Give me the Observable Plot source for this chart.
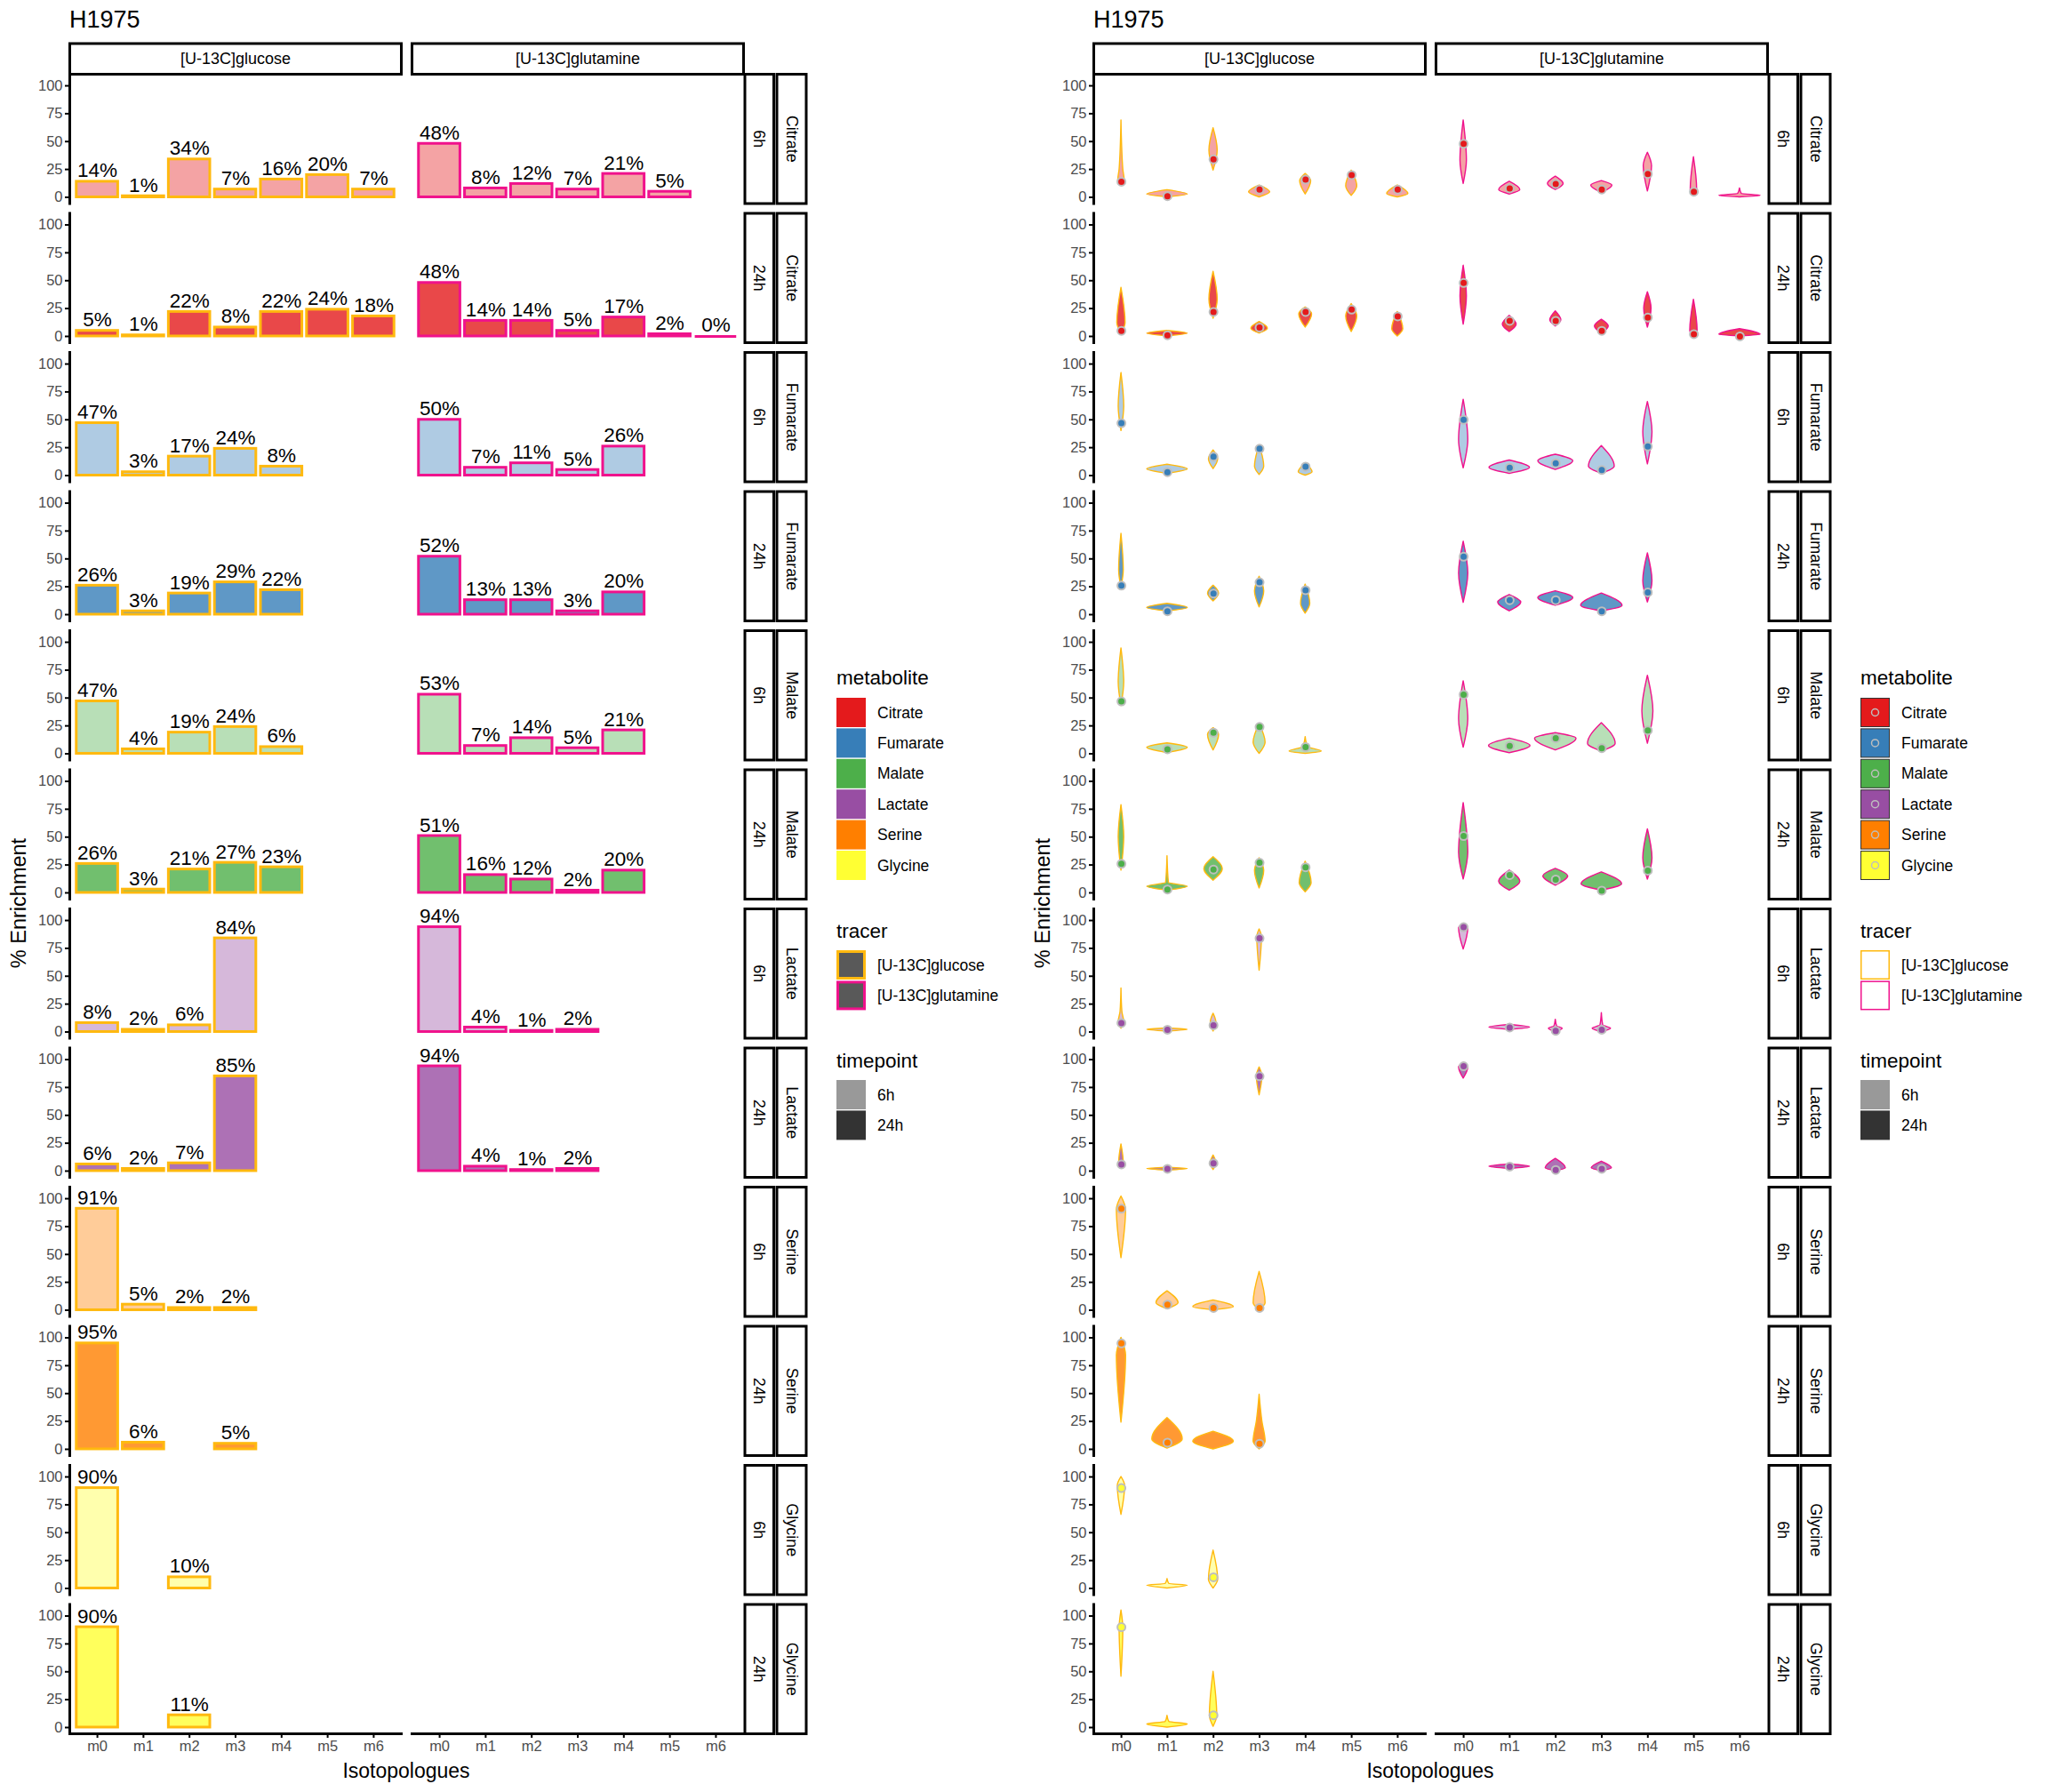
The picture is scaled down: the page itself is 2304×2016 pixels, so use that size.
<!DOCTYPE html>
<html><head><meta charset="utf-8">
<script src="https://cdn.jsdelivr.net/npm/d3@7"></script>
<script src="https://cdn.jsdelivr.net/npm/@observablehq/plot@0.6"></script>
<style>
body{margin:0;background:#fff;}
#page{position:relative;width:2304px;height:2016px;background:#fff;}
.half{position:absolute;top:0;width:1152px;height:2016px;}
.overlay{position:absolute;left:0;top:0;pointer-events:none;}
</style></head><body><div id="page"></div>
<script>
// ---------------- data ----------------
const title = "H1975";
const metabolites = ["Citrate", "Fumarate", "Malate", "Lactate", "Serine", "Glycine"];
const timepoints = ["6h", "24h"];
const tracers = ["[U-13C]glucose", "[U-13C]glutamine"];
const isoLabels = ["m0", "m1", "m2", "m3", "m4", "m5", "m6"];
const yTicks = [0, 25, 50, 75, 100];
const metaboliteColors = ["#E41A1C", "#377EB8", "#4DAF4A", "#984EA3", "#FF7F00", "#FFFF33"];
const tracerColors = ["#FFB90F", "#F0128C"];
const timepointAlpha = [0.4, 0.8];
const xLabel = "Isotopologues";
const yLabel = "% Enrichment";

// bar heights (percent enrichment), per row "metabolite timepoint", index = isotopologue
const glucosePct = {
  "Citrate 6h":  [14, 1, 34, 7, 16, 20, 7],
  "Citrate 24h": [5, 1, 22, 8, 22, 24, 18],
  "Fumarate 6h": [47, 3, 17, 24, 8],
  "Fumarate 24h":[26, 3, 19, 29, 22],
  "Malate 6h":   [47, 4, 19, 24, 6],
  "Malate 24h":  [26, 3, 21, 27, 23],
  "Lactate 6h":  [8, 2, 6, 84],
  "Lactate 24h": [6, 2, 7, 85],
  "Serine 6h":   [91, 5, 2, 2],
  "Serine 24h":  [95, 6, null, 5],
  "Glycine 6h":  [90, null, 10],
  "Glycine 24h": [90, null, 11]
};
const glutaminePct = {
  "Citrate 6h":  [48, 8, 12, 7, 21, 5, null],
  "Citrate 24h": [48, 14, 14, 5, 17, 2, 0],
  "Fumarate 6h": [50, 7, 11, 5, 26],
  "Fumarate 24h":[52, 13, 13, 3, 20],
  "Malate 6h":   [53, 7, 14, 5, 21],
  "Malate 24h":  [51, 16, 12, 2, 20],
  "Lactate 6h":  [94, 4, 1, 2],
  "Lactate 24h": [94, 4, 1, 2]
};

// violin outlines: [y, halfWidth, y, halfWidth, ...] (halfWidth in isotopologue units)
const glucoseViolins = {
  "Citrate 6h": [[11,0,15,0.07,25,0.04,69,0],[0,0,2.5,0.44,6.5,0],[24,0,42,0.09,62,0],[0,0,4.5,0.23,10.6,0],[2.6,0,14.6,0.12,21,0],[1.3,0,10,0.12,24,0],[0,0,3,0.23,10.6,0]],
  "Citrate 24h": [[2.6,0,12,0.09,43.6,0],[0,0,2.5,0.44,5,0],[16,0,33,0.09,58,0],[2.6,0,7,0.18,13,0],[8,0,20,0.14,26,0],[4,0,18,0.12,29,0],[0,0,6.6,0.12,22,0]],
  "Fumarate 6h": [[40,0,62,0.06,92,0],[1.6,0,5.5,0.44,9.7,0],[5.8,0,14.5,0.1,22.6,0],[0.6,0,8,0.1,27,0],[0,0,3,0.15,11,0]],
  "Fumarate 24h": [[24,0,40,0.05,72.5,0],[3,0,6,0.44,9.7,0],[12,0,19,0.12,26,0],[6.5,0,21,0.1,34,0],[1,0,9.7,0.1,27,0]],
  "Malate 6h": [[43,0,64,0.06,94.5,0],[0.6,0,5.5,0.44,9.4,0],[3,0,17,0.12,23,0],[0,0,10,0.13,26.5,0],[0,0,2,0.35,6,0.05,15,0]],
  "Malate 24h": [[20,0,50,0.06,78.7,0],[2,0,5.5,0.44,9,0.03,33,0],[11,0,21.6,0.2,32,0],[4,0,20,0.1,31,0],[0.6,0,8.7,0.13,28,0]],
  "Lactate 6h": [[3,0,9,0.06,18,0.02,39,0],[0.5,0,2,0.44,3.2,0],[0.5,0,8.5,0.06,16.4,0],[55,0,85,0.05,92,0]],
  "Lactate 24h": [[3,0,7,0.05,24,0],[0.5,0,2,0.44,3,0],[1,0,7,0.06,14,0],[68,0,85,0.06,93,0]],
  "Serine 6h": [[46.7,0,90,0.1,102,0],[1,0,6.3,0.24,17,0],[0,0,2.8,0.44,8.8,0],[0,0,6.3,0.13,34.4,0]],
  "Serine 24h": [[24,0,84,0.1,100,0],[0.7,0,9,0.33,28,0],[0,0,7,0.44,15.8,0],[0,0,7,0.13,25,0.06,49,0]],
  "Glycine 6h": [[66,0,92,0.08,100,0],[0,0,2.5,0.44,4,0.04,8.5,0],[0,0,8,0.1,34,0]],
  "Glycine 24h": [[45.6,0,89,0.04,105,0],[0,0,2.8,0.44,5,0.04,10.5,0],[0.7,0,10.5,0.08,50,0]]
};
const glutamineViolins = {
  "Citrate 6h": [[12,0,33,0.07,69,0],[2.6,0,6.6,0.23,14,0],[6.6,0,12,0.17,18.6,0],[4,0,10.6,0.23,14.6,0],[5.3,0,28,0.09,40,0],[1.3,0,6.6,0.07,36,0],[0,0,1.3,0.45,3,0.04,8,0]],
  "Citrate 24h": [[10.6,0,36,0.07,63.5,0],[4,0,10.6,0.15,18.5,0],[9,0,14.5,0.12,22.5,0],[2.6,0,9,0.15,15,0],[8,0,25,0.08,39.7,0],[0,0,5,0.08,33,0],[0,0,1.5,0.45,6.6,0]],
  "Fumarate 6h": [[6.5,0,32,0.1,68,0],[1.6,0,7,0.44,13.5,0],[5,0,13,0.38,18.7,0],[1.6,0,8,0.28,26.5,0],[10,0,39,0.1,66,0]],
  "Fumarate 24h": [[10.6,0,37,0.1,65.5,0],[3,0,11,0.25,17.7,0],[8,0,15,0.38,21,0],[3,0,8,0.45,19,0],[11,0,30,0.1,55,0]],
  "Malate 6h": [[5.5,0,31,0.1,65,0],[0.6,0,7,0.45,13.6,0],[3,0,13.6,0.45,18.5,0],[2,0,9,0.3,27.5,0],[9,0,38,0.12,70,0]],
  "Malate 24h": [[12,0,36,0.1,80.6,0],[2,0,10,0.23,20,0],[6.5,0,15,0.27,21.6,0],[2,0,7.7,0.44,18.4,0],[12,0,31,0.1,57,0]],
  "Lactate 6h": [[74,0,93,0.1,97,0],[2,0,4,0.44,6.4,0],[0,0,3,0.15,5,0.03,11,0],[0,0,3,0.2,6,0.03,17,0]],
  "Lactate 24h": [[83,0,93,0.1,97,0],[2,0,4,0.44,6,0],[0,0,2.6,0.22,11,0],[0,0,2.6,0.22,8.5,0]]
};

// ---------------- derived tables ----------------
const FONT = '"Liberation Sans", Arial, Helvetica, sans-serif';
const rowKeys = metabolites.flatMap(m => timepoints.map(t => m + " " + t));
const rowInfo = rowKeys.map(k => { const [m, t] = k.split(" "); return {key: k, metabolite: m, timepoint: t}; });
const blend = (c, a) => d3.interpolateRgb("#ffffff", c)(a);

const bars = [];
const knots = [];
[glucosePct, glutaminePct].forEach((tab, ti) => {
  rowInfo.forEach(r => {
    const col = metaboliteColors[metabolites.indexOf(r.metabolite)];
    const a = timepointAlpha[timepoints.indexOf(r.timepoint)];
    (tab[r.key] || []).forEach((v, i) => {
      if (v == null) return;
      bars.push({row: r.key, tracer: tracers[ti], i, v, color: col, fillColor: blend(col, a), edge: tracerColors[ti]});
    });
  });
});
[glucoseViolins, glutamineViolins].forEach((tab, ti) => {
  rowInfo.forEach(r => {
    const col = metaboliteColors[metabolites.indexOf(r.metabolite)];
    const a = timepointAlpha[timepoints.indexOf(r.timepoint)];
    (tab[r.key] || []).forEach((arr, i) => {
      if (!arr) return;
      for (let j = 0; j < arr.length; j += 2) {
        knots.push({id: ti + "|" + r.key + "|" + i, row: r.key, tracer: tracers[ti], i, y: arr[j], w: arr[j + 1], fillColor: blend(col, a), edge: tracerColors[ti]});
      }
    });
  });
});

// ---------------- layout ----------------
const W = 1152, H = 2016, ML = 78, MR = 316, MT = 83, MB = 66;
const FX_PAD = 12 / 385, FY_PAD = 11 / 156.5;
const fw = d3.scaleBand().domain(tracers).range([ML, W - MR]).paddingInner(FX_PAD).paddingOuter(0).bandwidth();
const fh = d3.scaleBand().domain(rowKeys).range([MT, H - MB]).paddingInner(FY_PAD).paddingOuter(0).bandwidth();

function commonMarks() {
  return [
    Plot.frame({facetAnchor: "top", insetTop: -34.5, insetBottom: fh, fill: "white", stroke: "black", strokeWidth: 3}),
    Plot.text(tracers, {fx: d => d, text: d => d, frameAnchor: "top", dy: -17, facetAnchor: "top", fontSize: 18, lineAnchor: "middle", textAnchor: "middle", fill: "black"}),
    Plot.frame({facetAnchor: "right", insetLeft: fw + 1.5, insetRight: -34, fill: "white", stroke: "black", strokeWidth: 3}),
    Plot.frame({facetAnchor: "right", insetLeft: fw + 37.5, insetRight: -70.5, fill: "white", stroke: "black", strokeWidth: 3}),
    Plot.text(rowInfo, {fy: "key", text: "timepoint", frameAnchor: "right", dx: 17.75, rotate: 90, textAnchor: "middle", lineAnchor: "middle", facetAnchor: "right", fontSize: 18, fill: "black"}),
    Plot.text(rowInfo, {fy: "key", text: "metabolite", frameAnchor: "right", dx: 54, rotate: 90, textAnchor: "middle", lineAnchor: "middle", facetAnchor: "right", fontSize: 18, fill: "black"}),
    Plot.axisY({ticks: yTicks, tickSize: 5, tickPadding: 3, facetAnchor: "left", label: null, fontSize: 16.5, color: "#4D4D4D", stroke: "black", strokeWidth: 2}),
    Plot.axisX({ticks: d3.range(isoLabels.length), tickFormat: i => isoLabels[i], tickSize: 5, tickPadding: 3, facetAnchor: "bottom", label: null, fontSize: 16.5, color: "#4D4D4D", stroke: "black", strokeWidth: 2}),
    Plot.frame({anchor: "left", facetAnchor: "left", stroke: "black", strokeWidth: 3}),
    Plot.frame({anchor: "bottom", facetAnchor: "bottom", stroke: "black", strokeWidth: 3})
  ];
}

function makePlot(dataMarks) {
  return Plot.plot({
    width: W, height: H,
    marginLeft: ML, marginRight: MR, marginTop: MT, marginBottom: MB,
    style: {fontFamily: FONT, background: "white", overflow: "visible"},
    fx: {domain: tracers, axis: null, paddingInner: FX_PAD, paddingOuter: 0, round: false},
    fy: {domain: rowKeys, axis: null, paddingInner: FY_PAD, paddingOuter: 0, round: false},
    x: {domain: [-0.6, isoLabels.length - 0.4]},
    y: {domain: [-5.6, 110.4]},
    color: {type: "identity"},
    marks: [...dataMarks, ...commonMarks()]
  });
}

const barPlot = makePlot([
  Plot.rect(bars, {fx: "tracer", fy: "row", x1: d => d.i - 0.45, x2: d => d.i + 0.45, y1: 0, y2: "v", fill: "fillColor", stroke: "edge", strokeWidth: 3}),
  Plot.ruleY(bars.filter(d => d.v === 0), {fx: "tracer", fy: "row", x1: d => d.i - 0.45, x2: d => d.i + 0.45, y: "v", stroke: "edge", strokeWidth: 3}),
  Plot.text(bars, {fx: "tracer", fy: "row", x: "i", y: "v", text: d => d.v + "%", dy: -5, lineAnchor: "bottom", fontSize: 22.5, fill: "black"})
]);

const violinPlot = makePlot([
  Plot.areaX(knots, {fx: "tracer", fy: "row", z: "id", y: "y", x1: d => d.i - d.w, x2: d => d.i + d.w, fill: "fillColor", stroke: "edge", strokeWidth: 1.4, curve: "monotone-y"}),
  Plot.dot(bars, {fx: "tracer", fy: "row", x: "i", y: "v", r: 4.5, fill: "color", stroke: "#BEBEBE", strokeWidth: 2})
]);

// ---------------- page assembly ----------------
const page = document.getElementById("page");
function addHalf(plotEl, left, kind) {
  const div = document.createElement("div");
  div.className = "half";
  div.style.left = left + "px";
  div.appendChild(plotEl);
  page.appendChild(div);
  const svg = d3.select(div).append("svg").attr("class", "overlay").attr("width", W).attr("height", H)
    .attr("font-family", FONT);
  svg.append("text").attr("x", 78).attr("y", 31).attr("font-size", 27).attr("fill", "black").text(title);
  svg.append("text").attr("transform", "translate(29,1016) rotate(-90)").attr("text-anchor", "middle").attr("font-size", 23.5).attr("fill", "black").text(yLabel);
  svg.append("text").attr("x", (ML + W - MR) / 2).attr("y", 2000).attr("text-anchor", "middle").attr("font-size", 23).attr("fill", "black").text(xLabel);

  const x0 = 941, step = 34.4, lx = 987, ks = 33;
  const g = svg.append("g");
  // metabolite legend
  g.append("text").attr("x", x0).attr("y", 770).attr("font-size", 22.5).text("metabolite");
  metabolites.forEach((m, k) => {
    const y = 785 + k * step;
    if (kind === "bar") {
      g.append("rect").attr("x", x0).attr("y", y).attr("width", ks).attr("height", ks).attr("fill", metaboliteColors[k]);
    } else {
      g.append("rect").attr("x", x0 + 0.5).attr("y", y + 0.5).attr("width", ks - 1).attr("height", ks - 1).attr("fill", metaboliteColors[k]).attr("stroke", "#333").attr("stroke-width", 1);
      g.append("circle").attr("cx", x0 + ks / 2).attr("cy", y + ks / 2).attr("r", 4).attr("fill", "none").attr("stroke", "#BEBEBE").attr("stroke-width", 1.5);
    }
    g.append("text").attr("x", lx).attr("y", y + ks / 2).attr("dominant-baseline", "central").attr("font-size", 17.5).text(m);
  });
  // tracer legend
  g.append("text").attr("x", x0).attr("y", 1055).attr("font-size", 22.5).text("tracer");
  tracers.forEach((t, k) => {
    const y = 1069 + k * step;
    if (kind === "bar") {
      g.append("rect").attr("x", x0 + 1.5).attr("y", y + 1.5).attr("width", ks - 3).attr("height", ks - 3).attr("fill", "#595959").attr("stroke", tracerColors[k]).attr("stroke-width", 3);
    } else {
      g.append("rect").attr("x", x0 + 0.75).attr("y", y + 0.75).attr("width", ks - 1.5).attr("height", ks - 1.5).attr("fill", "white").attr("stroke", tracerColors[k]).attr("stroke-width", 1.5);
    }
    g.append("text").attr("x", lx).attr("y", y + ks / 2).attr("dominant-baseline", "central").attr("font-size", 17.5).text(t);
  });
  // timepoint legend
  g.append("text").attr("x", x0).attr("y", 1201).attr("font-size", 22.5).text("timepoint");
  timepoints.forEach((t, k) => {
    const y = 1215 + k * step;
    g.append("rect").attr("x", x0).attr("y", y).attr("width", ks).attr("height", ks).attr("fill", blend("#000000", timepointAlpha[k]));
    g.append("text").attr("x", lx).attr("y", y + ks / 2).attr("dominant-baseline", "central").attr("font-size", 17.5).text(t);
  });
}
addHalf(barPlot, 0, "bar");
addHalf(violinPlot, 1152, "violin");
</script></body></html>
